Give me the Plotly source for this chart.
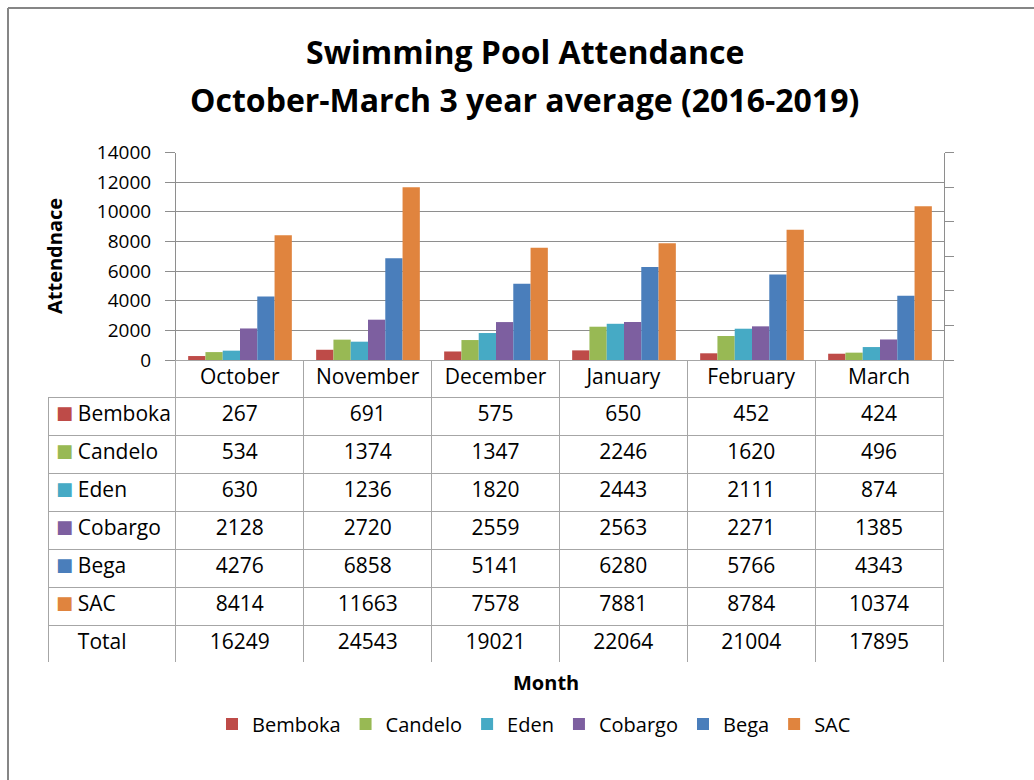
import plotly.graph_objects as go

months = ["October", "November", "December", "January", "February", "March"]
series_names = ["Bemboka", "Candelo", "Eden", "Cobargo", "Bega", "SAC"]
bemboka = [267, 691, 575, 650, 452, 424]
candelo = [534, 1374, 1347, 2246, 1620, 496]
eden = [630, 1236, 1820, 2443, 2111, 874]
cobargo = [2128, 2720, 2559, 2563, 2271, 1385]
bega = [4276, 6858, 5141, 6280, 5766, 4343]
sac = [8414, 11663, 7578, 7881, 8784, 10374]
totals = [16249, 24543, 19021, 22064, 21004, 17895]
colors = ["#BE4B48", "#98B954", "#46AAC5", "#7D5FA0", "#4A7EBB", "#E0843E"]

series = [bemboka, candelo, eden, cobargo, bega, sac]

W, H = 1034, 780
FONT = "Open Sans"
GRID = "#8E8E8E"
TBL = "#A6A6A6"


def px_x(v):
    return v / W


def px_y(v):
    return 1 - v / H


fig = go.Figure()
for name, vals, col in zip(series_names, series, colors):
    fig.add_trace(go.Bar(x=months, y=vals, name=name, marker=dict(color=col, line=dict(width=0))))

# empty trace on the secondary (unlabelled) axis
fig.add_trace(go.Scatter(x=[], y=[], yaxis="y2", showlegend=False, hoverinfo="skip"))

TBL_X = [px_x(48), px_x(944)]
TBL_Y = [px_y(663), px_y(360)]
NBSP = "\u00a0"

first_col = [NBSP * 4 + n for n in series_names] + [NBSP * 4 + "Total"]
cols = [first_col] + [[str(s[i]) for s in series] + [str(totals[i])] for i in range(len(months))]

fig.add_trace(go.Table(
    domain=dict(x=TBL_X, y=TBL_Y),
    columnwidth=[1] * 7,
    header=dict(values=[""] + months,
                height=37,
                align="center",
                line=dict(color=["rgba(0,0,0,0)"] + [TBL] * 6, width=1),
                fill=dict(color="rgba(0,0,0,0)"),
                font=dict(family=FONT, size=21, color="#000")),
    cells=dict(values=cols,
               height=38,
               align=["left"] + ["center"] * 6,
               line=dict(color=TBL, width=1),
               fill=dict(color="white"),
               font=dict(family=FONT, size=21, color="#000")),
))

# colour keys in the first table column (legend keys of the data table)
fig.add_trace(go.Table(
    domain=dict(x=[TBL_X[0], TBL_X[0] + (TBL_X[1] - TBL_X[0]) / 7], y=TBL_Y),
    header=dict(values=[""], height=37, line=dict(color="rgba(0,0,0,0)", width=0),
                fill=dict(color="rgba(0,0,0,0)"), font=dict(size=21)),
    cells=dict(values=[["■"] * len(series_names) + [""]],
               height=38, align="left",
               line=dict(color="rgba(0,0,0,0)", width=0),
               fill=dict(color="rgba(0,0,0,0)"),
               font=dict(family="DejaVu Sans", size=18, color=[colors + ["#000"]])),
))

fig.update_layout(
    width=W, height=H,
    margin=dict(l=0, r=0, t=0, b=0, autoexpand=False),
    paper_bgcolor="white", plot_bgcolor="white",
    barmode="group", bargap=0.19, bargroupgap=0,
    font=dict(family=FONT, color="#000"),
    showlegend=True,
    legend=dict(orientation="h", x=px_x(534), xanchor="center", y=px_y(724), yanchor="middle",
                font=dict(family=FONT, size=20, color="#000"), itemwidth=30,
                traceorder="normal", tracegroupgap=0),
    xaxis=dict(domain=[px_x(176), px_x(944)], showticklabels=False, showgrid=False,
               showline=True, linecolor=GRID, linewidth=1, ticks=""),
    yaxis=dict(domain=[px_y(360), px_y(152.5)], range=[0, 14000], dtick=2000, tickformat="d",
               showgrid=True, gridcolor=GRID, gridwidth=1, zeroline=False,
               showline=True, linecolor=GRID, linewidth=1,
               ticks="outside", ticklen=10, tickcolor=GRID, ticklabelstandoff=10,
               tickfont=dict(family=FONT, size=19, color="#000")),
    yaxis2=dict(overlaying="y", side="right", range=[0, 6], dtick=1, anchor="x",
                showgrid=False, zeroline=False, showticklabels=False,
                showline=True, linecolor=GRID, linewidth=1,
                ticks="outside", ticklen=9, tickcolor=GRID),
    annotations=[
        dict(text="<b>Swimming Pool Attendance</b>", x=px_x(525), y=px_y(52), xref="paper", yref="paper",
             showarrow=False, xanchor="center", yanchor="middle", font=dict(family=FONT, size=32)),
        dict(text="<b>October-March 3 year average (2016-2019)</b>", x=px_x(524), y=px_y(100),
             xref="paper", yref="paper", showarrow=False, xanchor="center", yanchor="middle",
             font=dict(family=FONT, size=32)),
        dict(text="<b>Attendnace</b>", x=px_x(55), y=px_y(256), xref="paper", yref="paper",
             textangle=-90, showarrow=False, xanchor="center", yanchor="middle",
             font=dict(family=FONT, size=20)),
        dict(text="<b>Month</b>", x=px_x(546), y=px_y(682), xref="paper", yref="paper",
             showarrow=False, xanchor="center", yanchor="middle", font=dict(family=FONT, size=20)),
    ],
    shapes=[
        dict(type="line", xref="paper", yref="paper", x0=px_x(8), y0=0, x1=px_x(8), y1=px_y(8),
             line=dict(color="#868686", width=2), layer="below"),
        dict(type="line", xref="paper", yref="paper", x0=px_x(8), y0=px_y(8), x1=1, y1=px_y(8),
             line=dict(color="#868686", width=2), layer="below"),
    ],
)

fig.write_html("out.html", config={"displayModeBar": False},
               post_script="document.body.style.margin='0';document.body.style.overflow='hidden';")
